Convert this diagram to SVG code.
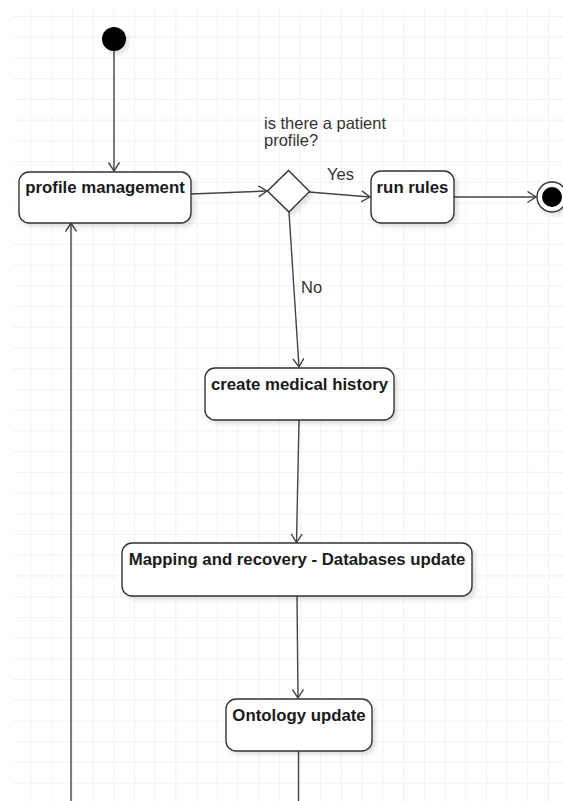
<svg xmlns="http://www.w3.org/2000/svg" width="563" height="801" viewBox="0 0 563 801">
<defs>
<pattern id="grid" patternUnits="userSpaceOnUse" x="30.5" y="16" width="20.7" height="20.72">
<path d="M0,0 H20.7 M0,0 V20.72" fill="none" stroke="#e6e6e6" stroke-width="1"/>
</pattern>
<filter id="sh" x="-20%" y="-20%" width="150%" height="160%">
<feDropShadow dx="3" dy="3" stdDeviation="2" flood-color="#000" flood-opacity="0.12"/>
</filter>
<marker id="arr" markerUnits="userSpaceOnUse" markerWidth="14" markerHeight="14" refX="9" refY="6" orient="auto">
<path d="M0.5,0.5 L9,6 L0.5,11.5" fill="none" stroke="#444" stroke-width="1.4"/>
</marker>
<style>
.box{fill:#fff;stroke:#333;stroke-width:1.4;filter:url(#sh)}
.lbl{font-family:"Liberation Sans",Arial,sans-serif;font-weight:bold;font-size:16.8px;fill:#1a1a1a;text-anchor:middle}
.txt{font-family:"Liberation Sans",Arial,sans-serif;font-size:16.5px;fill:#333}
.edge{fill:none;stroke:#444;stroke-width:1.4;marker-end:url(#arr)}
.plain{fill:none;stroke:#444;stroke-width:1.4}
</style>
</defs>
<rect width="563" height="801" fill="#fff"/>
<rect x="13" y="9" width="550" height="792" fill="url(#grid)"/>
<g id="connectors">
<path class="edge" d="M114,51 V171"/>
<path class="edge" d="M191,194 L267,191"/>
<path class="edge" d="M309,192 L370,197"/>
<path class="edge" d="M454,197 L536,197"/>
<path class="edge" d="M289,212 L299,367"/>
<path class="edge" d="M299,420 L296.5,542.5"/>
<path class="edge" d="M297,596 L298,698"/>
<path class="plain" d="M298.5,751 V801"/>
<path class="edge" d="M71,801 V223"/>
<text class="txt" x="327" y="180">Yes</text>
<text class="txt" x="301" y="293">No</text>
</g>
<g id="start">
<circle cx="114" cy="39" r="12" fill="#000" filter="url(#sh)"/>
</g>
<g id="profile-management">
<rect class="box" x="19" y="172" width="172" height="51" rx="10"/>
<text class="lbl" x="105" y="193">profile management</text>
</g>
<g id="decision">
<path d="M267.5,191 L288.5,170.5 L309.5,191.5 L289,212 Z" fill="#fff" stroke="#333" stroke-width="1.4" filter="url(#sh)"/>
<text class="txt" x="264" y="129">is there a patient</text>
<text class="txt" x="264" y="145.5">profile?</text>
</g>
<g id="run-rules">
<rect class="box" x="371" y="171" width="83" height="52" rx="10"/>
<text class="lbl" x="412.5" y="192.5">run rules</text>
</g>
<g id="end">
<circle cx="552" cy="197" r="15" fill="#fff" stroke="#333" stroke-width="1.4" filter="url(#sh)"/>
<circle cx="552" cy="197" r="10" fill="#000"/>
</g>
<g id="create-medical-history">
<rect class="box" x="205" y="368" width="189" height="52" rx="10"/>
<text class="lbl" x="299.5" y="389.5">create medical history</text>
</g>
<g id="mapping">
<rect class="box" x="122" y="543" width="350" height="53" rx="10"/>
<text class="lbl" x="297" y="565">Mapping and recovery - Databases update</text>
</g>
<g id="ontology-update">
<rect class="box" x="226" y="699" width="146" height="52" rx="10"/>
<text class="lbl" x="299" y="720.5">Ontology update</text>
</g>
</svg>
